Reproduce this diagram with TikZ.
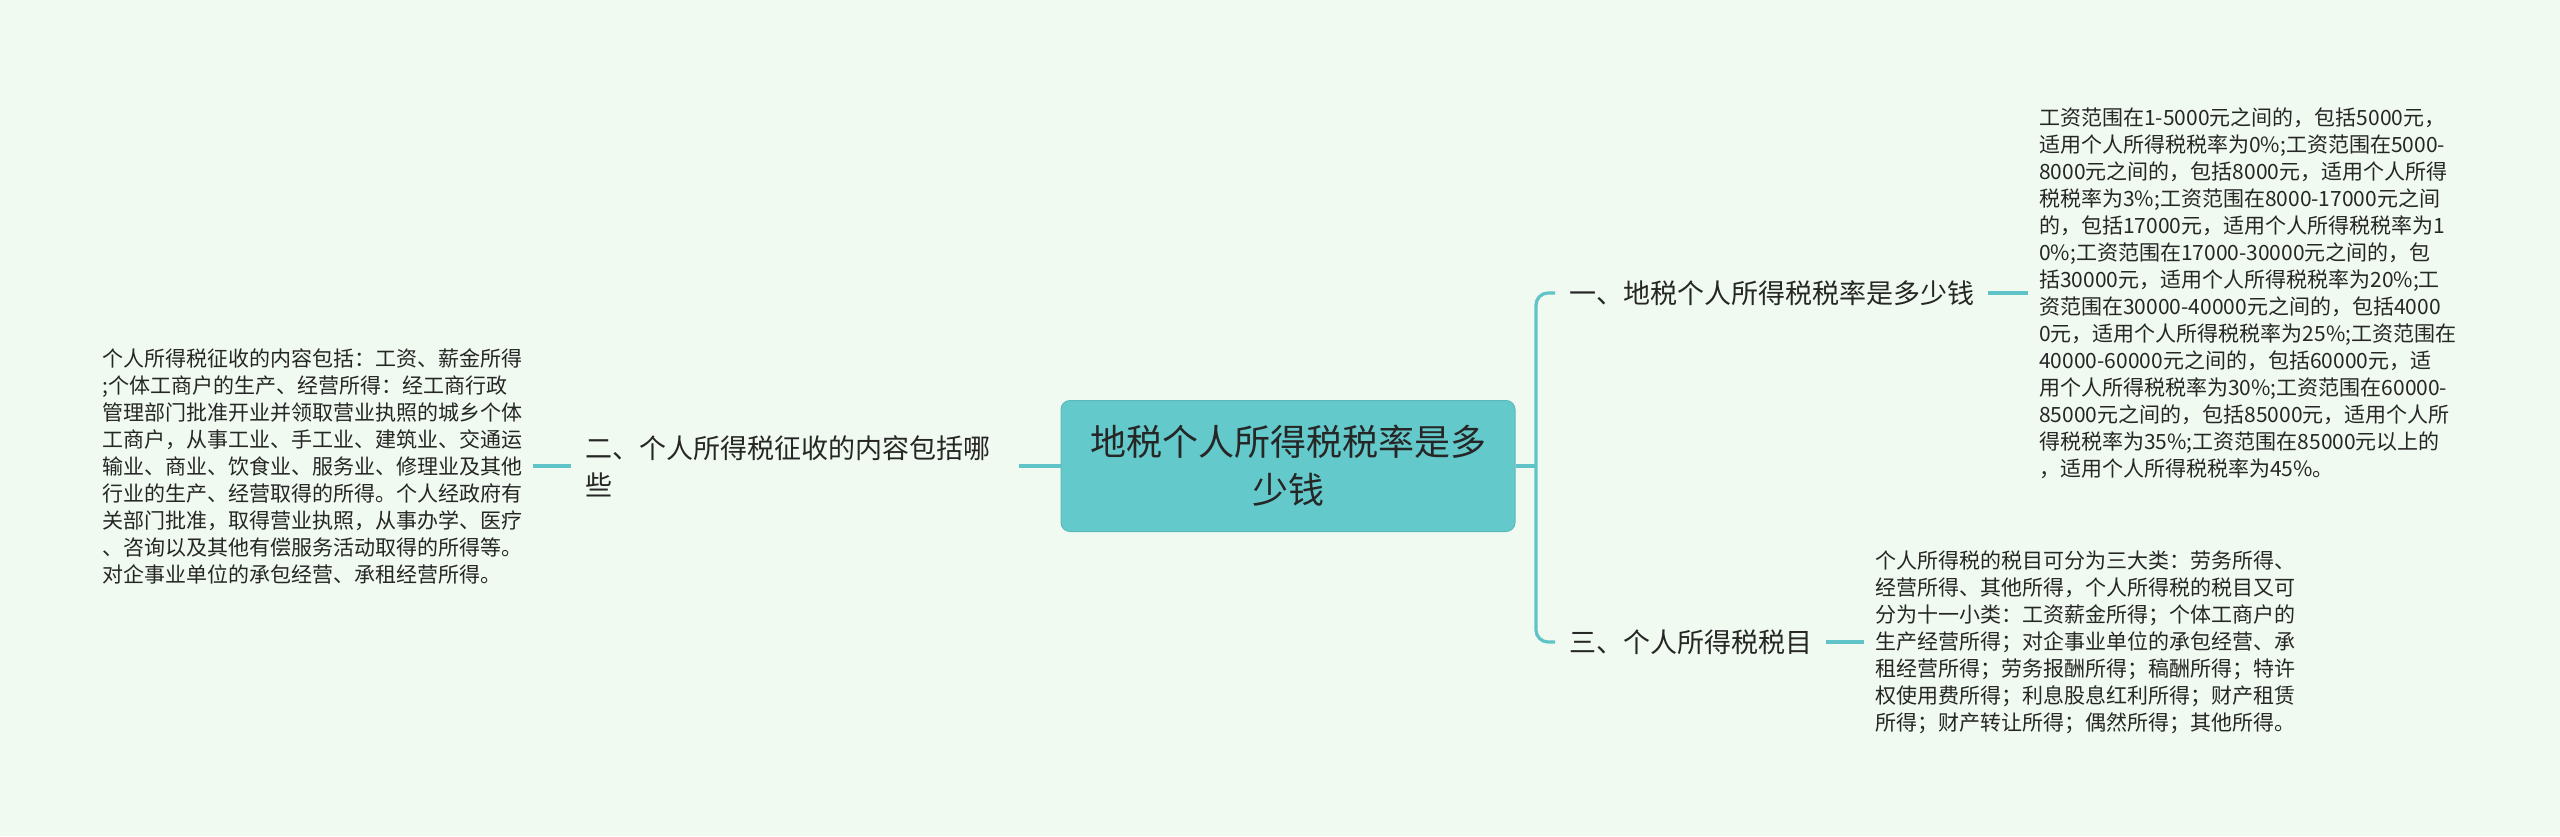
\documentclass[tikz,border=0pt]{standalone}
\usepackage{fontspec}
\newfontfamily\cjk{Noto Sans CJK SC}
\definecolor{turquesaMapa}{HTML}{64C9CB}
\definecolor{lineaMapa}{HTML}{60C3C7}
\definecolor{fondoMenta}{HTML}{F0FAF0}
\definecolor{tinta}{HTML}{262626}
\tikzset{
  raiz/.style={fill=turquesaMapa,draw=turquesaMapa!92!black,line width=1pt,
    rounded corners=9pt,minimum width=454pt,minimum height=131pt,align=center,
    text=tinta,font=\cjk\fontsize{36}{48}\selectfont},
  rama/.style={anchor=west,inner xsep=14pt,inner ysep=0pt,align=left,text=tinta,
    font=\cjk\fontsize{27}{37}\selectfont},
  bloque/.style={anchor=west,inner xsep=11pt,inner ysep=0pt,align=left,text=tinta,
    font=\cjk\fontsize{21}{27}\selectfont},
  enlace/.style={lineaMapa,line width=3.2pt}
}

\begin{document}
\begin{tikzpicture}[x=1pt,y=-1pt]
  \fill[fondoMenta] (0,0) rectangle (2560,836);
  \useasboundingbox (0,0) rectangle (2560,836);
  \node[raiz] (raiz) at (1288,466) {地税个人所得税税率是多\\少钱};
  \node[rama,text width=420pt] (rama2) at (571,466)
    {二、个人所得税征收的内容包括哪\\些};
  \node[bloque] (txt2) at (91,466)
    {个人所得税征收的内容包括：工资、薪金所得\\
     ;个体工商户的生产、经营所得：经工商行政\\
     管理部门批准开业并领取营业执照的城乡个体\\
     工商户，从事工业、手工业、建筑业、交通运\\
     输业、商业、饮食业、服务业、修理业及其他\\
     行业的生产、经营取得的所得。个人经政府有\\
     关部门批准，取得营业执照，从事办学、医疗\\
     、咨询以及其他有偿服务活动取得的所得等。\\
     对企事业单位的承包经营、承租经营所得。};
  \node[rama] (rama1) at (1555,293) {一、地税个人所得税税率是多少钱};
  \node[bloque] (txt1) at (2028,293)
    {工资范围在1-5000元之间的，包括5000元，\\
     适用个人所得税税率为0\%;工资范围在5000-\\
     8000元之间的，包括8000元，适用个人所得\\
     税税率为3\%;工资范围在8000-17000元之间\\
     的，包括17000元，适用个人所得税税率为1\\
     0\%;工资范围在17000-30000元之间的，包\\
     括30000元，适用个人所得税税率为20\%;工\\
     资范围在30000-40000元之间的，包括4000\\
     0元，适用个人所得税税率为25\%;工资范围在\\
     40000-60000元之间的，包括60000元，适\\
     用个人所得税税率为30\%;工资范围在60000-\\
     85000元之间的，包括85000元，适用个人所\\
     得税税率为35\%;工资范围在85000元以上的\\
     ，适用个人所得税税率为45\%。};
  \node[rama] (rama3) at (1555,642) {三、个人所得税税目};
  \node[bloque] (txt3) at (1864,642)
    {个人所得税的税目可分为三大类：劳务所得、\\
     经营所得、其他所得，个人所得税的税目又可\\
     分为十一小类：工资薪金所得；个体工商户的\\
     生产经营所得；对企事业单位的承包经营、承\\
     租经营所得；劳务报酬所得；稿酬所得；特许\\
     权使用费所得；利息股息红利所得；财产租赁\\
     所得；财产转让所得；偶然所得；其他所得。};
  \coordinate (nudo) at (1536,466);
  \draw[enlace] (raiz.east) -- (nudo);
  \draw[enlace,rounded corners=12pt] (rama1.west) -| (nudo) |- (rama3.west);
  \draw[enlace] (raiz.west) -- (rama2.east);
  \draw[enlace] (rama2.west) -- (txt2.east);
  \draw[enlace] (rama1.east) -- (txt1.west);
  \draw[enlace] (rama3.east) -- (txt3.west);
\end{tikzpicture}
\end{document}
